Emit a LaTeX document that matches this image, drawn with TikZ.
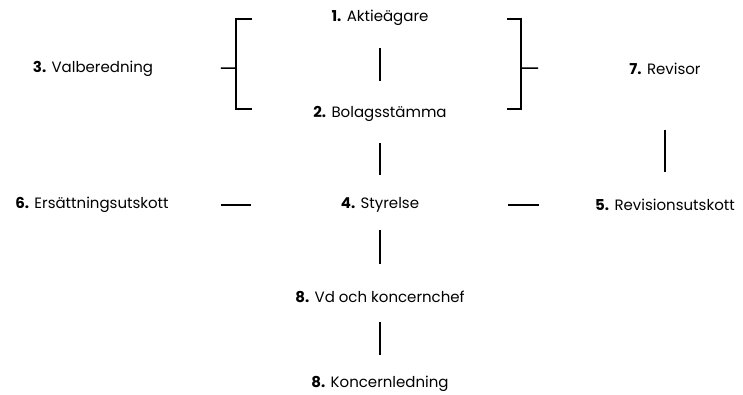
\documentclass[tikz,border=0pt]{standalone}
\usepackage{fontspec}
\setmainfont{Poppins}
\begin{document}
\begin{tikzpicture}[x=1pt,y=-1pt,
  lbl/.style={font=\fontsize{15}{17}\selectfont, inner sep=0pt, anchor=center},
  conn/.style={line width=1.5pt, line cap=butt},
  hconn/.style={line width=2.2pt, line cap=butt}]
\useasboundingbox (0,0) rectangle (743,394);
\node[lbl] (a1) at (380,18)  {\textbf{1.} Aktieägare};
\node[lbl] (a2) at (380,114) {\textbf{2.} Bolagsstämma};
\node[lbl] (a3) at (93,69)   {\textbf{3.} Valberedning};
\node[lbl] (a7) at (665,69)  {\textbf{7.} Revisor};
\node[lbl] (a4) at (380,205) {\textbf{4.} Styrelse};
\node[lbl] (a6) at (92,205)  {\textbf{6.} Ersättningsutskott};
\node[lbl] (a5) at (665,205) {\textbf{5.} Revisionsutskott};
\node[lbl] (a8) at (380,297) {\textbf{8.} Vd och koncernchef};
\node[lbl] (a9) at (380,384) {\textbf{8.} Koncernledning};
\coordinate (lb) at (236,68);
\coordinate (rb) at (521,68);
% vertical connectors
\draw[conn, shorten <=30pt, shorten >=33pt] (a1.center) -- (a2.center);
\draw[conn, shorten <=29pt, shorten >=30pt] (a2.center) -- (a4.center);
\draw[conn, shorten <=25pt, shorten >=33pt] (a4.center) -- (a8.center);
\draw[conn, shorten <=25pt, shorten >=29pt] (a8.center) -- (a9.center);
\draw[conn, shorten <=61pt, shorten >=33pt] (a7.center) -- (a5.center);
% horizontal connectors
\draw[hconn, shorten <=129pt, shorten >=129pt] (a6.center) -- (a4.center);
\draw[hconn, shorten <=128pt, shorten >=126pt] (a4.center) -- (a5.center);
% brackets
\draw[conn] (252,19) -- (236,19) -- (236,109) -- (252,109);
\draw[conn] (507,19) -- (521,19) -- (521,109) -- (507,109);
\draw[conn, shorten <=128pt] (a3.center) -- (lb);
\draw[conn, shorten >=127pt] (rb) -- (a7.center);
\end{tikzpicture}
\end{document}
